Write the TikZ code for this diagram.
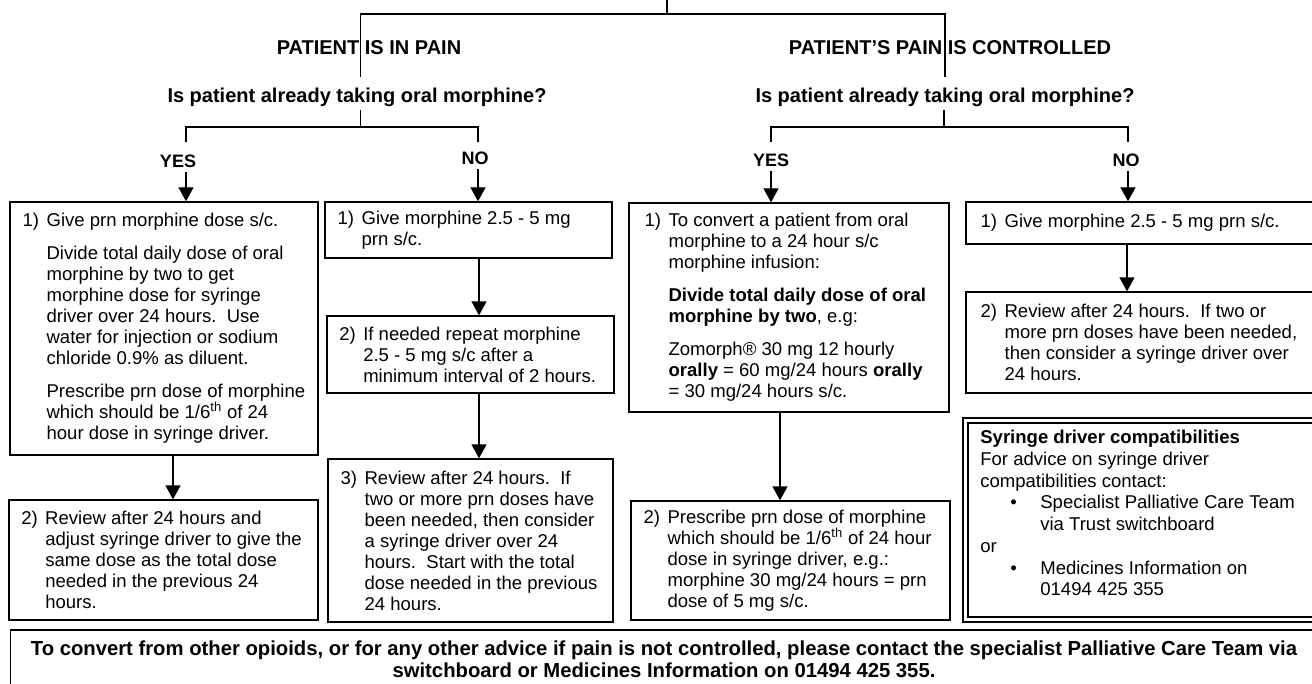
\documentclass[tikz,border=0pt]{standalone}
\usepackage{fontspec}
\setmainfont{Liberation Sans}
\usetikzlibrary{arrows.meta,positioning,fit}

\newcommand{\nr}[1]{\makebox[18pt][l]{#1}}
\newcommand{\ind}{\hspace*{18pt}}
\newcommand{\bul}{\makebox[45pt][l]{\hspace*{22.5pt}\textbullet}}

\tikzset{
  box/.style={draw, inner sep=0pt, line width=1pt},
  txt/.style={align=left, inner sep=0pt, font=\fontsize{13.9}{15.75}\selectfont},
  ttl/.style={font=\fontsize{15}{18}\selectfont\bfseries, inner sep=0pt},
  qst/.style={font=\fontsize{15}{18}\selectfont\bfseries, inner ysep=0pt, text height=19.5pt, text depth=5.25pt, anchor=base},
  yn/.style={font=\fontsize{13.5}{16}\selectfont\bfseries},
  arr/.style={-{Triangle[width=11.25pt,length=10.5pt]}, line width=1pt},
  tree/.style={line width=1pt}
}

\begin{document}
\begin{tikzpicture}[x=0.75pt, y=-0.75pt]
\useasboundingbox (0,0) rectangle (1312,684);
\clip (0,0) rectangle (1312,684);

%Headings
\node[ttl] (painL) at (369,48) {PATIENT IS IN PAIN};
\node[ttl] (painR) at (950,48) {PATIENT'S PAIN IS CONTROLLED};
\node[qst] (qL) at (357,103) {Is patient already taking oral morphine?};
\node[qst] (qR) at (945,103) {Is patient already taking oral morphine?};
\node[yn] (yesL) at (178,161) {YES};
\node[yn] (noL)  at (475,158) {NO};
\node[yn] (yesR) at (771,160) {YES};
\node[yn] (noR)  at (1126,160) {NO};

%Tree
\coordinate (root)   at (667,0);
\coordinate (splitL) at (360.7,14);
\coordinate (splitR) at (945,14);
\coordinate (forkL)  at (360.7,127);
\coordinate (forkR)  at (944,127);
\coordinate (footYL) at (186,142);
\coordinate (footNL) at (478,142);
\coordinate (footYR) at (771,142);
\coordinate (footNR) at (1128,142);

\draw[tree] (root) -- (root |- splitL);
\draw[tree] (splitL |- qL.north) -- (splitL) -- (splitR) -- (splitR |- qR.north);
\draw[tree] (forkL |- qL.south) -- (forkL);
\draw[tree] (footYL) |- (forkL) -| (footNL);
\draw[tree] (forkR |- qR.south) -- (forkR);
\draw[tree] (footYR) |- (forkR) -| (footNR);

%Boxes
\node[box, fit={(10,202) (318,455)}] (b1) {};
\node[box, fit={(9,500) (318,620)}] (b2) {};
\node[box, fit={(325,202) (612,258)}] (n1) {};
\node[box, fit={(327,316) (614,393)}] (n2) {};
\node[box, fit={(328,459) (613,622)}] (n3) {};
\node[box, fit={(629,203) (949,412)}] (c1) {};
\node[box, fit={(631,501) (950,620)}] (c2) {};
\node[box, fit={(966,202) (1340,244)}] (d1) {};
\node[box, fit={(966,292) (1340,393)}] (d2) {};
\node[box, line width=1.4pt, fit={(963,418) (1340,622)}] (syr) {};
\draw[line width=0.8pt] (968,423) rectangle (1345,617);
\node[box, fit={(10.5,630) (1340,720)}] (note) {};

%Texts
\node[txt, right=9.75pt of b1.west] (b1t) {\nr{1)}Give prn morphine dose s/c.\\[9pt]
\ind Divide total daily dose of oral\\
\ind morphine by two to get\\
\ind morphine dose for syringe\\
\ind driver over 24 hours.\ \ Use\\
\ind water for injection or sodium\\
\ind chloride 0.9\% as diluent.\\[9pt]
\ind Prescribe prn dose of morphine\\
\ind which should be 1/6\textsuperscript{th} of 24\\
\ind hour dose in syringe driver.};
\node[txt, right=9.5pt of b2.west] (b2t) {\nr{2)}Review after 24 hours and\\
\ind adjust syringe driver to give the\\
\ind same dose as the total dose\\
\ind needed in the previous 24\\
\ind hours.};
\node[txt, right=9.75pt of n1.west] (n1t) {\nr{1)}Give morphine 2.5 - 5 mg\\
\ind prn s/c.};
\node[txt, right=9.5pt of n2.west] (n2t) {\nr{2)}If needed repeat morphine\\
\ind 2.5 - 5 mg s/c after a\\
\ind minimum interval of 2 hours.};
\node[txt, right=9.75pt of n3.west] (n3t) {\nr{3)}Review after 24 hours.\ \ If\\
\ind two or more prn doses have\\
\ind been needed, then consider\\
\ind a syringe driver over 24\\
\ind hours.\ \ Start with the total\\
\ind dose needed in the previous\\
\ind 24 hours.};
\node[txt, right=12pt of c1.west] (c1t) {\nr{1)}To convert a patient from oral\\
\ind morphine to a 24 hour s/c\\
\ind morphine infusion:\\[9pt]
\ind\textbf{Divide total daily dose of oral}\\
\ind\textbf{morphine by two}, e.g:\\[9pt]
\ind Zomorph® 30 mg 12 hourly\\
\ind\textbf{orally} = 60 mg/24 hours \textbf{orally}\\
\ind = 30 mg/24 hours s/c.};
\node[txt, right=9.75pt of c2.west] (c2t) {\nr{2)}Prescribe prn dose of morphine\\
\ind which should be 1/6\textsuperscript{th} of 24 hour\\
\ind dose in syringe driver, e.g.:\\
\ind morphine 30 mg/24 hours = prn\\
\ind dose of 5 mg s/c.};
\node[txt, right=11.25pt of d1.west] (d1t) {\nr{1)}Give morphine 2.5 - 5 mg prn s/c.};
\node[txt, right=11.25pt of d2.west] (d2t) {\nr{2)}Review after 24 hours.\ \ If two or\\
\ind more prn doses have been needed,\\
\ind then consider a syringe driver over\\
\ind 24 hours.};
\node[txt, font=\fontsize{13.9}{16.3}\selectfont, below right=9.75pt and 13.5pt of syr.north west] (syrt)
{\textbf{Syringe driver compatibilities}\\
For advice on syringe driver\\
compatibilities contact:\\
\bul Specialist Palliative Care Team\\
\hspace*{45pt}via Trust switchboard\\
or\\
\bul Medicines Information on\\
\hspace*{45pt}01494 425 355};
\node[align=center, inner sep=0pt, font=\fontsize{15.2}{16.5}\selectfont\bfseries] (notet) at (664,659)
{To convert from other opioids, or for any other advice if pain is not controlled, please contact the specialist Palliative Care Team via\\
switchboard or Medicines Information on 01494 425 355.};

%Arrows
\draw[arr] (footYL |- yesL.south) -- (footYL |- b1.north);
\draw[arr] (footNL |- noL.south) -- (footNL |- n1.north);
\draw[arr] (footYR |- yesR.south) -- (footYR |- c1.north);
\draw[arr] (footNR |- noR.south) -- (footNR |- d1.north);
\draw[arr] (b1.south -| 173,0) -- (b2.north -| 173,0);
\draw[arr] (n1.south -| 479,0) -- (n2.north -| 479,0);
\draw[arr] (n2.south -| 479,0) -- (n3.north -| 479,0);
\draw[arr] (c1.south -| 780,0) -- (c2.north -| 780,0);
\draw[arr] (d1.south -| 1127,0) -- (d2.north -| 1127,0);

\end{tikzpicture}
\end{document}
